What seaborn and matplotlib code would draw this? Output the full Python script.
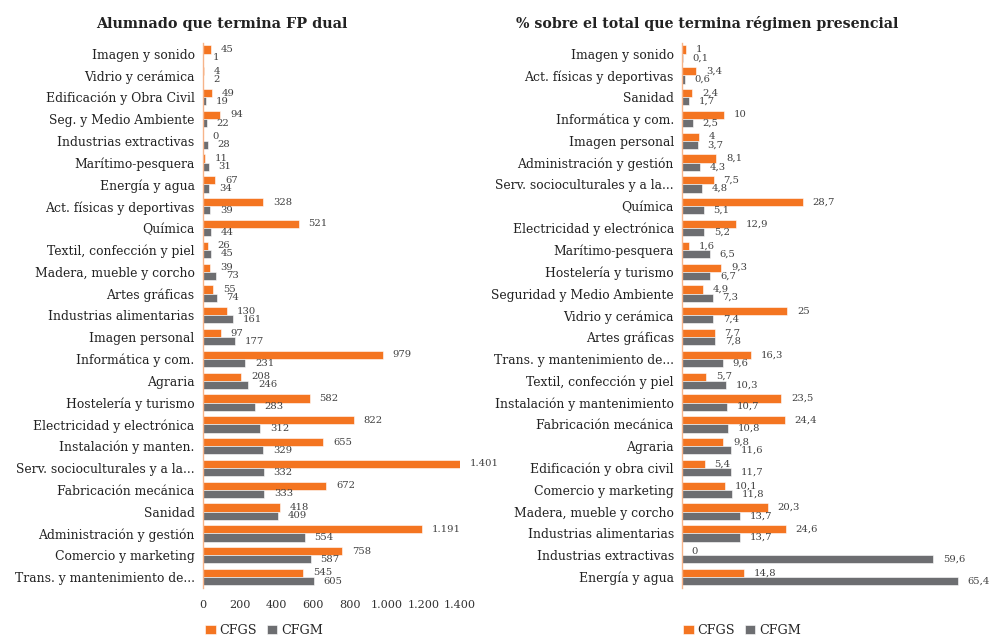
import pandas as pd
import matplotlib.pyplot as plt
import seaborn as sns

# ------------------------------------------------------------
# DATA
# ------------------------------------------------------------
dual_cats = ["Imagen y sonido", "Vidrio y cerámica", "Edificación y Obra Civil",
             "Seg. y Medio Ambiente", "Industrias extractivas", "Marítimo-pesquera",
             "Energía y agua", "Act. físicas y deportivas", "Química",
             "Textil, confección y piel", "Madera, mueble y corcho", "Artes gráficas",
             "Industrias alimentarias", "Imagen personal", "Informática y com.",
             "Agraria", "Hostelería y turismo", "Electricidad y electrónica",
             "Instalación y manten.", "Serv. socioculturales y a la...",
             "Fabricación mecánica", "Sanidad", "Administración y gestión",
             "Comercio y marketing", "Trans. y mantenimiento de..."]
dual_cfgs = [45, 4, 49, 94, 0, 11, 67, 328, 521, 26, 39, 55, 130, 97, 979,
             208, 582, 822, 655, 1401, 672, 418, 1191, 758, 545]
dual_cfgm = [1, 2, 19, 22, 28, 31, 34, 39, 44, 45, 73, 74, 161, 177, 231,
             246, 283, 312, 329, 332, 333, 409, 554, 587, 605]

pct_cats = ["Imagen y sonido", "Act. físicas y deportivas", "Sanidad",
            "Informática y com.", "Imagen personal", "Administración y gestión",
            "Serv. socioculturales y a la...", "Química", "Electricidad y electrónica",
            "Marítimo-pesquera", "Hostelería y turismo", "Seguridad y Medio Ambiente",
            "Vidrio y cerámica", "Artes gráficas", "Trans. y mantenimiento de...",
            "Textil, confección y piel", "Instalación y mantenimiento",
            "Fabricación mecánica", "Agraria", "Edificación y obra civil",
            "Comercio y marketing", "Madera, mueble y corcho",
            "Industrias alimentarias", "Industrias extractivas", "Energía y agua"]
pct_cfgs = [1, 3.4, 2.4, 10, 4, 8.1, 7.5, 28.7, 12.9, 1.6, 9.3, 4.9, 25, 7.7,
            16.3, 5.7, 23.5, 24.4, 9.8, 5.4, 10.1, 20.3, 24.6, 0, 14.8]
pct_cfgm = [0.1, 0.6, 1.7, 2.5, 3.7, 4.3, 4.8, 5.1, 5.2, 6.5, 6.7, 7.3, 7.4, 7.8,
            9.6, 10.3, 10.7, 10.8, 11.6, 11.7, 11.8, 13.7, 13.7, 59.6, 65.4]

x_ticks = [0, 200, 400, 600, 800, 1000, 1200, 1400]
x_ticklabels = ["0", "200", "400", "600", "800", "1.000", "1.200", "1.400"]

ORANGE = "#F47521"
GRAY = "#6D6E71"
SPINE = "#F6B48A"

# ------------------------------------------------------------
# SETUP
# ------------------------------------------------------------
sns.set_style("white")
plt.rcParams["font.family"] = ["DejaVu Serif"]


def long_df(cats, gs, gm):
    return pd.DataFrame({
        "cat": cats * 2,
        "val": gs + gm,
        "tipo": ["CFGS"] * len(cats) + ["CFGM"] * len(cats),
    })


def fmt_int(v):
    return f"{v:,.0f}".replace(",", ".")


def fmt_dec(v):
    return f"{v:g}".replace(".", ",")


fig = plt.figure(figsize=(9.9, 6.37), dpi=100)
ax1 = fig.add_axes([0.205, 0.077, 0.2596, 0.856])
ax2 = fig.add_axes([0.689, 0.077, 0.298, 0.856])

panels = [
    (ax1, long_df(dual_cats, dual_cfgs, dual_cfgm), (dual_cfgs, dual_cfgm), fmt_int, (0, 1400)),
    (ax2, long_df(pct_cats, pct_cfgs, pct_cfgm), (pct_cfgs, pct_cfgm), fmt_dec, (0, 70)),
]

for ax, d, vals, fmt, lim in panels:
    sns.barplot(data=d, y="cat", x="val", hue="tipo", orient="h",
                palette={"CFGS": ORANGE, "CFGM": GRAY}, width=0.75, saturation=1,
                edgecolor="white", linewidth=0.4, ax=ax)
    for cont, v in zip(ax.containers, vals):
        ax.bar_label(cont, labels=[fmt(x) for x in v], padding=7,
                     fontsize=7.2, color="#404040", clip_on=False)
    ax.set_xlim(*lim)
    ax.set_ylim(len(d) / 2 - 0.5, -0.5)
    ax.set_xlabel("")
    ax.set_ylabel("")
    for s in ["top", "right", "bottom"]:
        ax.spines[s].set_visible(False)
    ax.spines["left"].set_color(SPINE)
    ax.spines["left"].set_linewidth(1)
    ax.tick_params(axis="y", length=0, labelsize=8.9, labelcolor="#222222", pad=6)
    ax.legend(loc="upper left", bbox_to_anchor=(-0.035, -0.045), ncol=2,
              frameon=False, handlelength=0.8, handleheight=0.8,
              handletextpad=0.3, columnspacing=0.8, fontsize=9.2)

ax1.set_xticks(x_ticks)
ax1.set_xticklabels(x_ticklabels)
ax1.tick_params(axis="x", length=0, labelsize=8.1, labelcolor="#333333", pad=9)
ax2.set_xticks([])

fig.text(0.224, 0.963, "Alumnado que termina FP dual", ha="center", va="center",
         fontsize=10.4, fontweight="bold", color="#222222")
fig.text(0.714, 0.963, "% sobre el total que termina régimen presencial", ha="center",
         va="center", fontsize=10.2, fontweight="bold", color="#222222")

plt.savefig("out.png", dpi=100)
